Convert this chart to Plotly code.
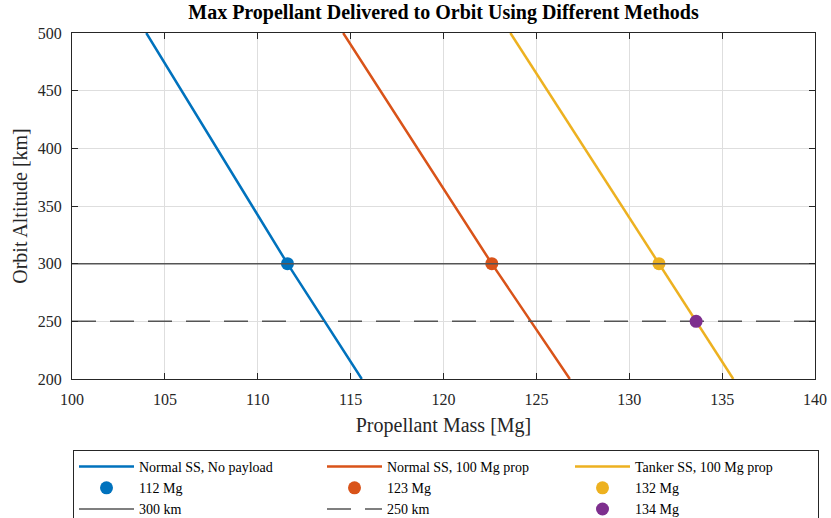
import plotly.graph_objects as go

# Orbit altitude samples [km] and the propellant mass each method can deliver [Mg]
altitude_km = [200, 300, 500]
normal_no_payload = [115.6, 111.6, 104.0]
normal_100_prop = [126.8, 122.6, 114.6]
tanker_100_prop = [135.6, 131.6, 123.6]

# Highlighted operating points
point_300_alt = 300
point_250_alt = 250
pt_normal_no_payload = 111.6
pt_normal_100_prop = 122.6
pt_tanker_300 = 131.6
pt_tanker_250 = 133.6

ref_alt_solid = 300
ref_alt_dashed = 250
x_range = [100, 140]
y_range = [200, 500]

BLUE = "#0072BD"
ORANGE = "#D95319"
YELLOW = "#EDB120"
PURPLE = "#7E2F8E"
REF_GRAY = "#555555"
FONT = "Liberation Serif"

fig = go.Figure()

# Delivery curves
for name, xs, color in [
    ("Normal SS, No payload", normal_no_payload, BLUE),
    ("Normal SS, 100 Mg prop", normal_100_prop, ORANGE),
    ("Tanker SS, 100 Mg prop", tanker_100_prop, YELLOW),
]:
    fig.add_trace(go.Scatter(x=xs, y=altitude_km, mode="lines", name=name,
                             line=dict(color=color, width=2.5)))

# Points at 300 km
for val, color in [(pt_normal_no_payload, BLUE), (pt_normal_100_prop, ORANGE),
                   (pt_tanker_300, YELLOW)]:
    fig.add_trace(go.Scatter(x=[val], y=[point_300_alt], mode="markers",
                             name=f"{val:.0f} Mg",
                             marker=dict(color=color, size=13)))

# Reference altitudes
fig.add_trace(go.Scatter(x=x_range, y=[ref_alt_solid] * 2, mode="lines",
                         name=f"{ref_alt_solid} km",
                         line=dict(color=REF_GRAY, width=1.5)))
fig.add_trace(go.Scatter(x=x_range, y=[ref_alt_dashed] * 2, mode="lines",
                         name=f"{ref_alt_dashed} km",
                         line=dict(color=REF_GRAY, width=1.5, dash="24px,14px")))

# Tanker point at 250 km
fig.add_trace(go.Scatter(x=[pt_tanker_250], y=[point_250_alt], mode="markers",
                         name=f"{pt_tanker_250:.0f} Mg",
                         marker=dict(color=PURPLE, size=13)))

axis_common = dict(
    showline=True, linecolor="#262626", linewidth=1, mirror="ticks",
    ticks="inside", ticklen=6, tickcolor="#262626",
    showgrid=True, gridcolor="#dedede", gridwidth=1, zeroline=False,
    tickfont=dict(family=FONT, size=16, color="#262626"),
)

fig.update_xaxes(range=x_range, dtick=5, tick0=100, ticklabelstandoff=6,
                 title=dict(text="Propellant Mass [Mg]",
                            font=dict(family=FONT, size=20, color="#262626"),
                            standoff=10),
                 **axis_common)
fig.update_yaxes(range=y_range, dtick=50, tick0=200, ticklabelstandoff=6,
                 title=dict(text="Orbit Altitude [km]",
                            font=dict(family=FONT, size=20, color="#262626"),
                            standoff=4),
                 **axis_common)

fig.update_layout(
    width=831, height=518,
    margin=dict(l=72, r=16, t=33, b=139, autoexpand=False),
    plot_bgcolor="white", paper_bgcolor="white",
    title=dict(text="<b>Max Propellant Delivered to Orbit Using Different Methods</b>",
               font=dict(family=FONT, size=20, color="black"),
               x=0.5, xref="paper", xanchor="center",
               y=1, yref="container", yanchor="top", pad=dict(t=5)),
    legend=dict(orientation="h",
                xref="container", x=73 / 831, xanchor="left",
                yref="container", y=1 - 450 / 518, yanchor="top",
                entrywidth=178, itemwidth=55,
                bgcolor="white", bordercolor="#262626", borderwidth=1,
                font=dict(family=FONT, size=14, color="black"),
                traceorder="normal"),
    showlegend=True,
)

fig.write_html("out.html")
